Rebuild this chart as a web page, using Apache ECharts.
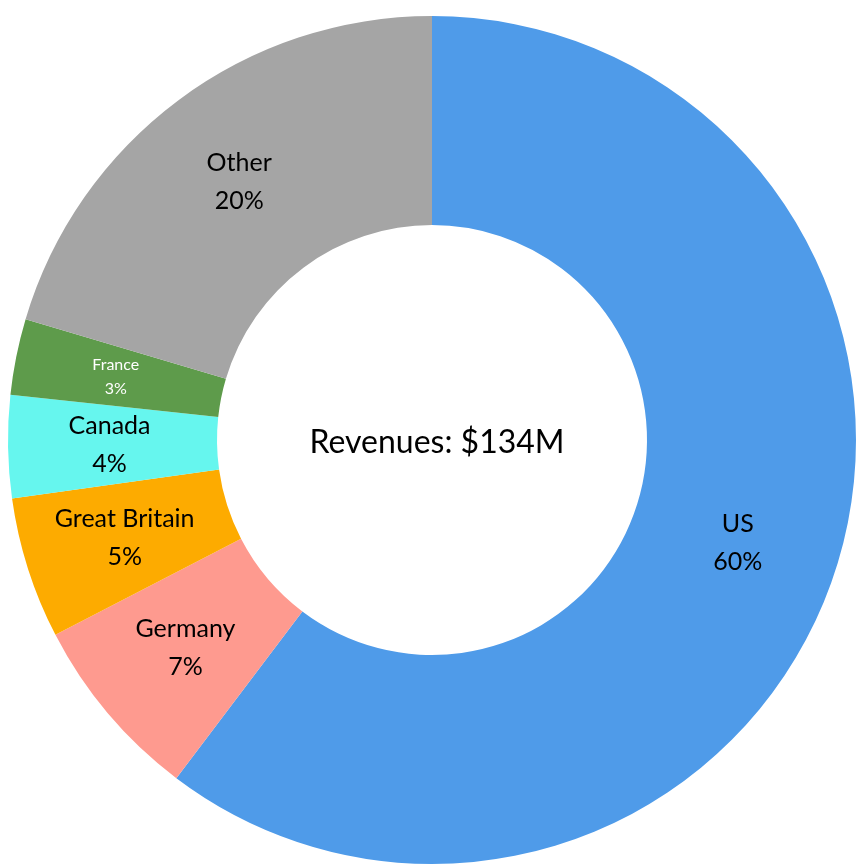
<!DOCTYPE html>
<html><head><meta charset="utf-8">
<script src="https://cdn.jsdelivr.net/npm/echarts@6/dist/echarts.min.js"></script>
<style>html,body{margin:0;padding:0;background:#fff}#c{width:864px;height:868px}</style>
</head><body><div id="c"></div>
<script>
const categories = ["US","Germany","Great Britain","Canada","France","Other"];
const values = [60.3,7.1,5.4,3.9,2.9,20.4];
const colors = ["#4f9be9","#fe9a8f","#fdab00","#66f6ee","#5e9b4b","#a5a5a5"];
const centerText = "Revenues: $134M";
const total = values.reduce((a,b)=>a+b,0);
const chart = echarts.init(document.getElementById('c'));
chart.setOption({
  animation:false,
  title:{text:centerText,left:432,top:438,textAlign:'center',textVerticalAlign:'middle',
    textStyle:{fontSize:32,fontWeight:'normal',color:'#000',fontFamily:'Lato'}},
  series:[{type:'pie',center:[432,440],radius:[215,424],startAngle:90,clockwise:true,
    label:{position:'inside',formatter:p=>p.name+'\n'+Math.round(p.value/total*100)+'%',
      fontSize:25,lineHeight:38,color:'#000',fontFamily:'Lato'},
    data:categories.map((n,i)=>({name:n,value:values[i],itemStyle:{color:colors[i]},
      label:n==='France'?{fontSize:16,lineHeight:24,color:'#fff'}:{} }))
  }]
});
</script></body></html>
